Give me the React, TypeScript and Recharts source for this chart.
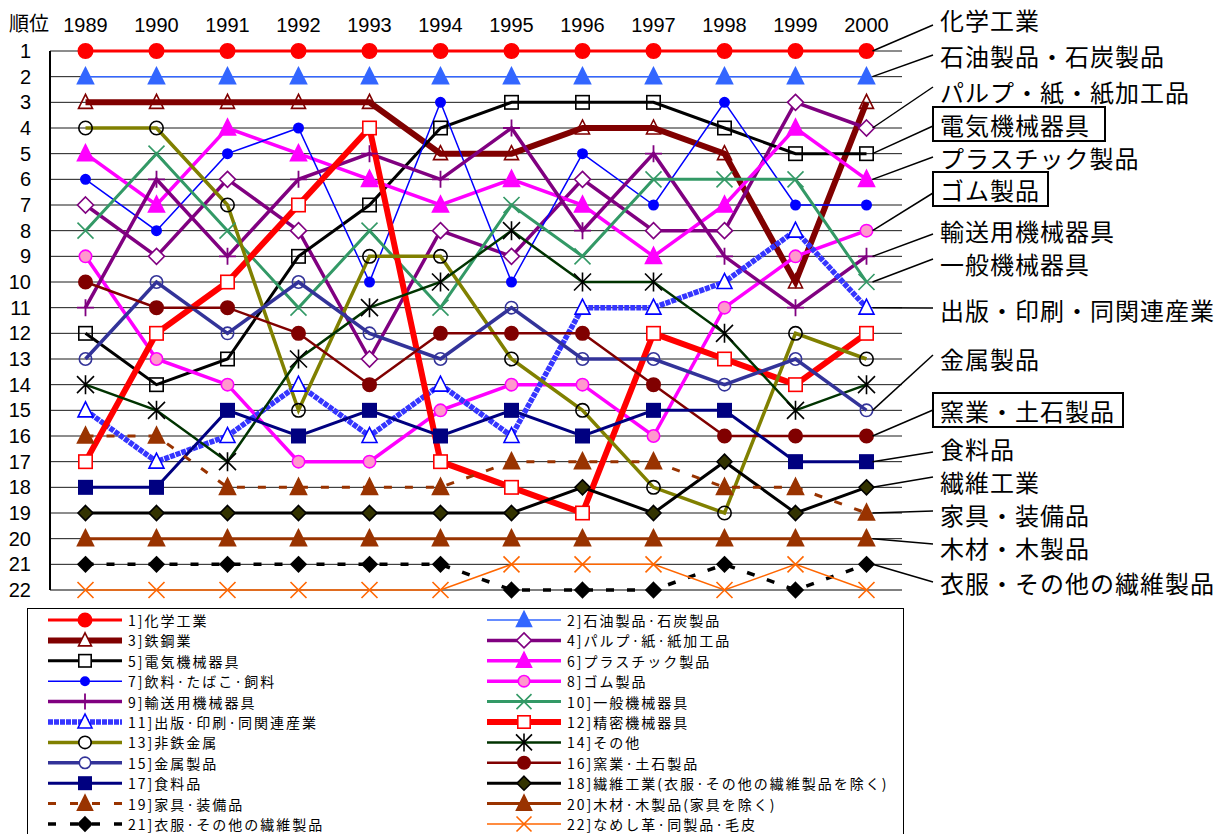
import React from "react";
import { CartesianGrid, LabelList, Line, LineChart, ReferenceLine, XAxis, YAxis } from "recharts";

const years = ["1989", "1990", "1991", "1992", "1993", "1994", "1995", "1996", "1997", "1998", "1999", "2000"];
const rankTicks = [1, 2, 3, 4, 5, 6, 7, 8, 9, 10, 11, 12, 13, 14, 15, 16, 17, 18, 19, 20, 21, 22];

// 順位 per year, one list per industry
const chemical = [1, 1, 1, 1, 1, 1, 1, 1, 1, 1, 1, 1];
const petroleum = [2, 2, 2, 2, 2, 2, 2, 2, 2, 2, 2, 2];
const steel = [3, 3, 3, 3, 3, 5, 5, 4, 4, 5, 10, 3];
const pulp = [7, 9, 6, 8, 13, 8, 9, 6, 8, 8, 3, 4];
const electrical = [12, 14, 13, 9, 7, 4, 3, 3, 3, 4, 5, 5];
const plastics = [5, 7, 4, 5, 6, 7, 6, 7, 9, 7, 4, 6];
const beverages = [6, 8, 5, 4, 10, 3, 10, 5, 7, 3, 7, 7];
const rubber = [9, 13, 14, 17, 17, 15, 14, 14, 16, 11, 9, 8];
const transport = [11, 6, 9, 6, 5, 6, 4, 8, 5, 9, 11, 9];
const generalMachinery = [8, 5, 8, 11, 8, 11, 7, 9, 6, 6, 6, 10];
const printing = [15, 17, 16, 14, 16, 14, 16, 11, 11, 10, 8, 11];
const precision = [17, 12, 10, 7, 4, 17, 18, 19, 12, 13, 14, 12];
const nonferrous = [4, 4, 7, 15, 9, 9, 13, 15, 18, 19, 12, 13];
const other = [14, 15, 17, 13, 11, 10, 8, 10, 10, 12, 15, 14];
const metalProducts = [13, 10, 12, 10, 12, 13, 11, 13, 13, 14, 13, 15];
const ceramics = [10, 11, 11, 12, 14, 12, 12, 12, 14, 16, 16, 16];
const food = [18, 18, 15, 16, 15, 16, 15, 16, 15, 15, 17, 17];
const textiles = [19, 19, 19, 19, 19, 19, 19, 18, 19, 17, 19, 18];
const furniture = [16, 16, 18, 18, 18, 18, 17, 17, 17, 18, 18, 19];
const lumber = [20, 20, 20, 20, 20, 20, 20, 20, 20, 20, 20, 20];
const apparel = [21, 21, 21, 21, 21, 21, 22, 22, 22, 21, 22, 21];
const leather = [22, 22, 22, 22, 22, 22, 21, 21, 21, 22, 21, 22];

const seriesValues = [
  chemical, petroleum, steel, pulp, electrical, plastics, beverages, rubber, transport, generalMachinery, printing,
  precision, nonferrous, other, metalProducts, ceramics, food, textiles, furniture, lumber, apparel, leather
];

const legendNames = [
  "化学工業", "石油製品·石炭製品", "鉄鋼業", "パルプ·紙·紙加工品", "電気機械器具", "プラスチック製品",
  "飲料·たばこ·飼料", "ゴム製品", "輸送用機械器具", "一般機械器具", "出版·印刷·同関連産業", "精密機械器具",
  "非鉄金属", "その他", "金属製品", "窯業·土石製品", "食料品", "繊維工業(衣服·その他の繊維製品を除く)",
  "家具·装備品", "木材·木製品(家具を除く)", "衣服·その他の繊維製品", "なめし革·同製品·毛皮"
];

type Kind = "circle" | "triangle" | "square" | "diamond" | "plus" | "cross" | "star";
type Style = { stroke: string; width: number; dash?: string; kind: Kind; size: number; fill: string; mark: string };

const styles: Style[] = [
  { stroke: "#FF0000", width: 3, kind: "circle", size: 16, fill: "#FF0000", mark: "#FF0000" },
  { stroke: "#3366FF", width: 1.5, kind: "triangle", size: 16, fill: "#3366FF", mark: "#3366FF" },
  { stroke: "#800000", width: 6, kind: "triangle", size: 14, fill: "none", mark: "#800000" },
  { stroke: "#800080", width: 3.5, kind: "diamond", size: 16, fill: "#FFFFFF", mark: "#800080" },
  { stroke: "#000000", width: 3, kind: "square", size: 15, fill: "none", mark: "#000000" },
  { stroke: "#FF00FF", width: 3.5, kind: "triangle", size: 16, fill: "#FF00FF", mark: "#FF00FF" },
  { stroke: "#0000FF", width: 1.5, kind: "circle", size: 11, fill: "#0000FF", mark: "#0000FF" },
  { stroke: "#FF00FF", width: 3.5, kind: "circle", size: 14, fill: "#FF99CC", mark: "#FF00FF" },
  { stroke: "#800080", width: 3.5, kind: "plus", size: 17, fill: "none", mark: "#800080" },
  { stroke: "#339966", width: 3, kind: "cross", size: 16, fill: "none", mark: "#339966" },
  { stroke: "#3535FF", width: 5.5, dash: "5 1", kind: "triangle", size: 15, fill: "#FFFFFF", mark: "#0000FF" },
  { stroke: "#FF0000", width: 6, kind: "square", size: 15, fill: "#FFFFFF", mark: "#FF0000" },
  { stroke: "#808000", width: 3.5, kind: "circle", size: 15, fill: "none", mark: "#000000" },
  { stroke: "#003300", width: 2.5, kind: "star", size: 17, fill: "none", mark: "#000000" },
  { stroke: "#333399", width: 3.5, kind: "circle", size: 14, fill: "none", mark: "#333399" },
  { stroke: "#800000", width: 2.5, kind: "circle", size: 15, fill: "#800000", mark: "#800000" },
  { stroke: "#000080", width: 3, kind: "square", size: 15, fill: "#000080", mark: "#000080" },
  { stroke: "#000000", width: 3, kind: "diamond", size: 15, fill: "#333300", mark: "#000000" },
  { stroke: "#993300", width: 3, dash: "8 13", kind: "triangle", size: 16, fill: "#993300", mark: "#993300" },
  { stroke: "#993300", width: 3, kind: "triangle", size: 16, fill: "#993300", mark: "#993300" },
  { stroke: "#000000", width: 3.5, dash: "8 13", kind: "diamond", size: 15, fill: "#000000", mark: "#000000" },
  { stroke: "#FF6600", width: 1.5, kind: "cross", size: 16, fill: "none", mark: "#FF6600" }
];

// right-hand callouts: series index, text, text centre y, leader end y, boxed
const callouts: { idx: number; text: string; y: number; tip: number; box?: [number, number] }[] = [
  { idx: 0, text: "化学工業", y: 19, tip: 25 },
  { idx: 1, text: "石油製品・石炭製品", y: 55, tip: 55 },
  { idx: 3, text: "パルプ・紙・紙加工品", y: 91, tip: 87 },
  { idx: 4, text: "電気機械器具", y: 124, tip: 126, box: [1105, 107] },
  { idx: 5, text: "プラスチック製品", y: 157, tip: 157 },
  { idx: 7, text: "ゴム製品", y: 189, tip: 193, box: [1048, 172] },
  { idx: 8, text: "輸送用機械器具", y: 230, tip: 234 },
  { idx: 9, text: "一般機械器具", y: 263, tip: 259 },
  { idx: 10, text: "出版・印刷・同関連産業", y: 309, tip: 308 },
  { idx: 14, text: "金属製品", y: 358, tip: 355 },
  { idx: 15, text: "窯業・土石製品", y: 410, tip: 410, box: [1123, 393] },
  { idx: 16, text: "食料品", y: 448, tip: 452 },
  { idx: 17, text: "繊維工業", y: 481, tip: 477 },
  { idx: 18, text: "家具・装備品", y: 514, tip: 511 },
  { idx: 19, text: "木材・木製品", y: 547, tip: 544 },
  { idx: 20, text: "衣服・その他の繊維製品", y: 582, tip: 582 }
];

const data = years.map((year, i) => {
  const row: Record<string, string | number> = { year };
  seriesValues.forEach((vals, s) => {
    row[`s${s + 1}`] = vals[i];
  });
  return row;
});

const JP = "'Noto Sans CJK JP', 'Noto Sans', sans-serif";
const NUM = "'Liberation Sans', Arial, sans-serif";

function Marker({ kind, cx, cy, size, fill, stroke }: { kind: Kind; cx: number; cy: number; size: number; fill: string; stroke: string }) {
  const h = size / 2;
  const sw = 1.6;
  if (cx == null || cy == null) return null;
  switch (kind) {
    case "circle":
      return <circle cx={cx} cy={cy} r={h - 0.8} fill={fill} stroke={stroke} strokeWidth={sw} />;
    case "square":
      return <rect x={cx - h + 0.8} y={cy - h + 0.8} width={size - 1.6} height={size - 1.6} fill={fill} stroke={stroke} strokeWidth={sw} />;
    case "triangle":
      return <polygon points={`${cx},${cy - h - 1} ${cx - h},${cy + h - 1} ${cx + h},${cy + h - 1}`} fill={fill} stroke={stroke} strokeWidth={sw} />;
    case "diamond":
      return <polygon points={`${cx},${cy - h} ${cx + h},${cy} ${cx},${cy + h} ${cx - h},${cy}`} fill={fill} stroke={stroke} strokeWidth={sw} />;
    case "plus":
      return <path d={`M${cx - h},${cy}H${cx + h}M${cx},${cy - h}V${cy + h}`} stroke={stroke} strokeWidth={1.8} />;
    case "cross":
      return <path d={`M${cx - h},${cy - h}L${cx + h},${cy + h}M${cx + h},${cy - h}L${cx - h},${cy + h}`} stroke={stroke} strokeWidth={1.6} />;
    default:
      return (
        <path
          d={`M${cx - h},${cy - h}L${cx + h},${cy + h}M${cx + h},${cy - h}L${cx - h},${cy + h}M${cx},${cy - h - 1}V${cy + h + 1}`}
          stroke={stroke}
          strokeWidth={1.6}
        />
      );
  }
}

function makeDot(st: Style) {
  return (props: any) => (
    <Marker key={`d-${props.index}`} kind={st.kind} cx={props.cx} cy={props.cy} size={st.size} fill={st.fill} stroke={st.mark} />
  );
}

function makeCallout(c: (typeof callouts)[number]) {
  return (props: any) => {
    if (props.index !== years.length - 1) return null;
    const x = Number(props.x);
    const y = Number(props.y);
    return (
      <g key="callout">
        <line x1={x + 6} y1={y} x2={933} y2={c.tip} stroke="#000" strokeWidth={1.5} />
        {c.box && <rect x={933} y={c.box[1]} width={c.box[0] - 933} height={34} fill="#fff" stroke="#000" strokeWidth={2} />}
        <text x={940} y={c.y} dominantBaseline="central" fontSize={24} letterSpacing={1} fontFamily={JP} fill="#000">
          {c.text}
        </text>
      </g>
    );
  };
}

function LegendIcon({ st, x1, x2, y }: { st: Style; x1: number; x2: number; y: number }) {
  const mid = (x1 + x2) / 2;
  const dash = st.dash === "8 13" ? "8 14" : st.dash;
  return (
    <g>
      <line x1={x1} y1={y} x2={x2} y2={y} stroke={st.stroke} strokeWidth={st.width} strokeDasharray={dash} />
      <Marker kind={st.kind} cx={mid} cy={y} size={st.size - 1} fill={st.fill === "none" ? "#fff" : st.fill} stroke={st.mark} />
    </g>
  );
}

function LegendBox() {
  const rows = Math.ceil(legendNames.length / 2);
  return (
    <svg width={1225} height={834} style={{ position: "absolute", left: 0, top: 0, pointerEvents: "none" }}>
      <rect x={27.5} y={608.5} width={876} height={240} fill="none" stroke="#000" strokeWidth={1} />
      {Array.from({ length: rows }).map((_, r) => {
        const y = 620 + r * 20.4;
        return [0, 1].map((col) => {
          const idx = r * 2 + col;
          if (idx >= legendNames.length) return null;
          const x1 = col === 0 ? 48 : 487;
          return (
            <g key={idx}>
              <LegendIcon st={styles[idx]} x1={x1} x2={x1 + 74} y={y} />
              <text x={x1 + 80} y={y} dominantBaseline="central" fontSize={14} letterSpacing={2} fontFamily={JP} fill="#000">
                {`${idx + 1}]${legendNames[idx]}`}
              </text>
            </g>
          );
        });
      })}
    </svg>
  );
}

const rankTitle = () => (
  <text x={29} y={31} textAnchor="middle" fontSize={20} fontFamily={JP} fill="#000">
    順位
  </text>
);

export default function App() {
  return (
    <div style={{ position: "absolute", left: 0, top: 0, width: 1225, height: 834, overflow: "hidden", background: "#fff" }}>
      <LineChart width={1225} height={600} data={data} margin={{ top: 0, right: 323, bottom: 10, left: 0 }}>
        <CartesianGrid horizontal vertical={false} stroke="#1a1a1a" strokeWidth={1} />
        <XAxis
          dataKey="year"
          orientation="top"
          scale="band"
          height={51}
          interval={0}
          tickLine={false}
          tickSize={0}
          tickMargin={19}
          axisLine={false}
          tick={{ fontSize: 20, fill: "#000", fontFamily: NUM }}
        />
        <YAxis
          type="number"
          domain={[1, 22]}
          reversed
          ticks={rankTicks}
          interval={0}
          width={50}
          tickLine={false}
          tickSize={0}
          tickMargin={19}
          axisLine={{ stroke: "#000", strokeWidth: 2 }}
          tick={{ fontSize: 20, fill: "#000", fontFamily: NUM }}
          label={{ position: "insideTop", content: rankTitle }}
        />
        <YAxis yAxisId="frame" orientation="right" width={0} tick={false} tickLine={false} axisLine={{ stroke: "#808080", strokeWidth: 2 }} />
        <ReferenceLine y={22} stroke="#808080" strokeWidth={2} />
        {styles.map((st, i) => {
          const c = callouts.find((k) => k.idx === i);
          return (
            <Line
              key={i}
              dataKey={`s${i + 1}`}
              name={legendNames[i]}
              type="linear"
              stroke={st.stroke}
              strokeWidth={st.width}
              strokeDasharray={st.dash}
              dot={makeDot(st)}
              activeDot={false}
              isAnimationActive={false}
            >
              {c && <LabelList dataKey={`s${i + 1}`} content={makeCallout(c)} />}
            </Line>
          );
        })}
      </LineChart>
      <LegendBox />
    </div>
  );
}
